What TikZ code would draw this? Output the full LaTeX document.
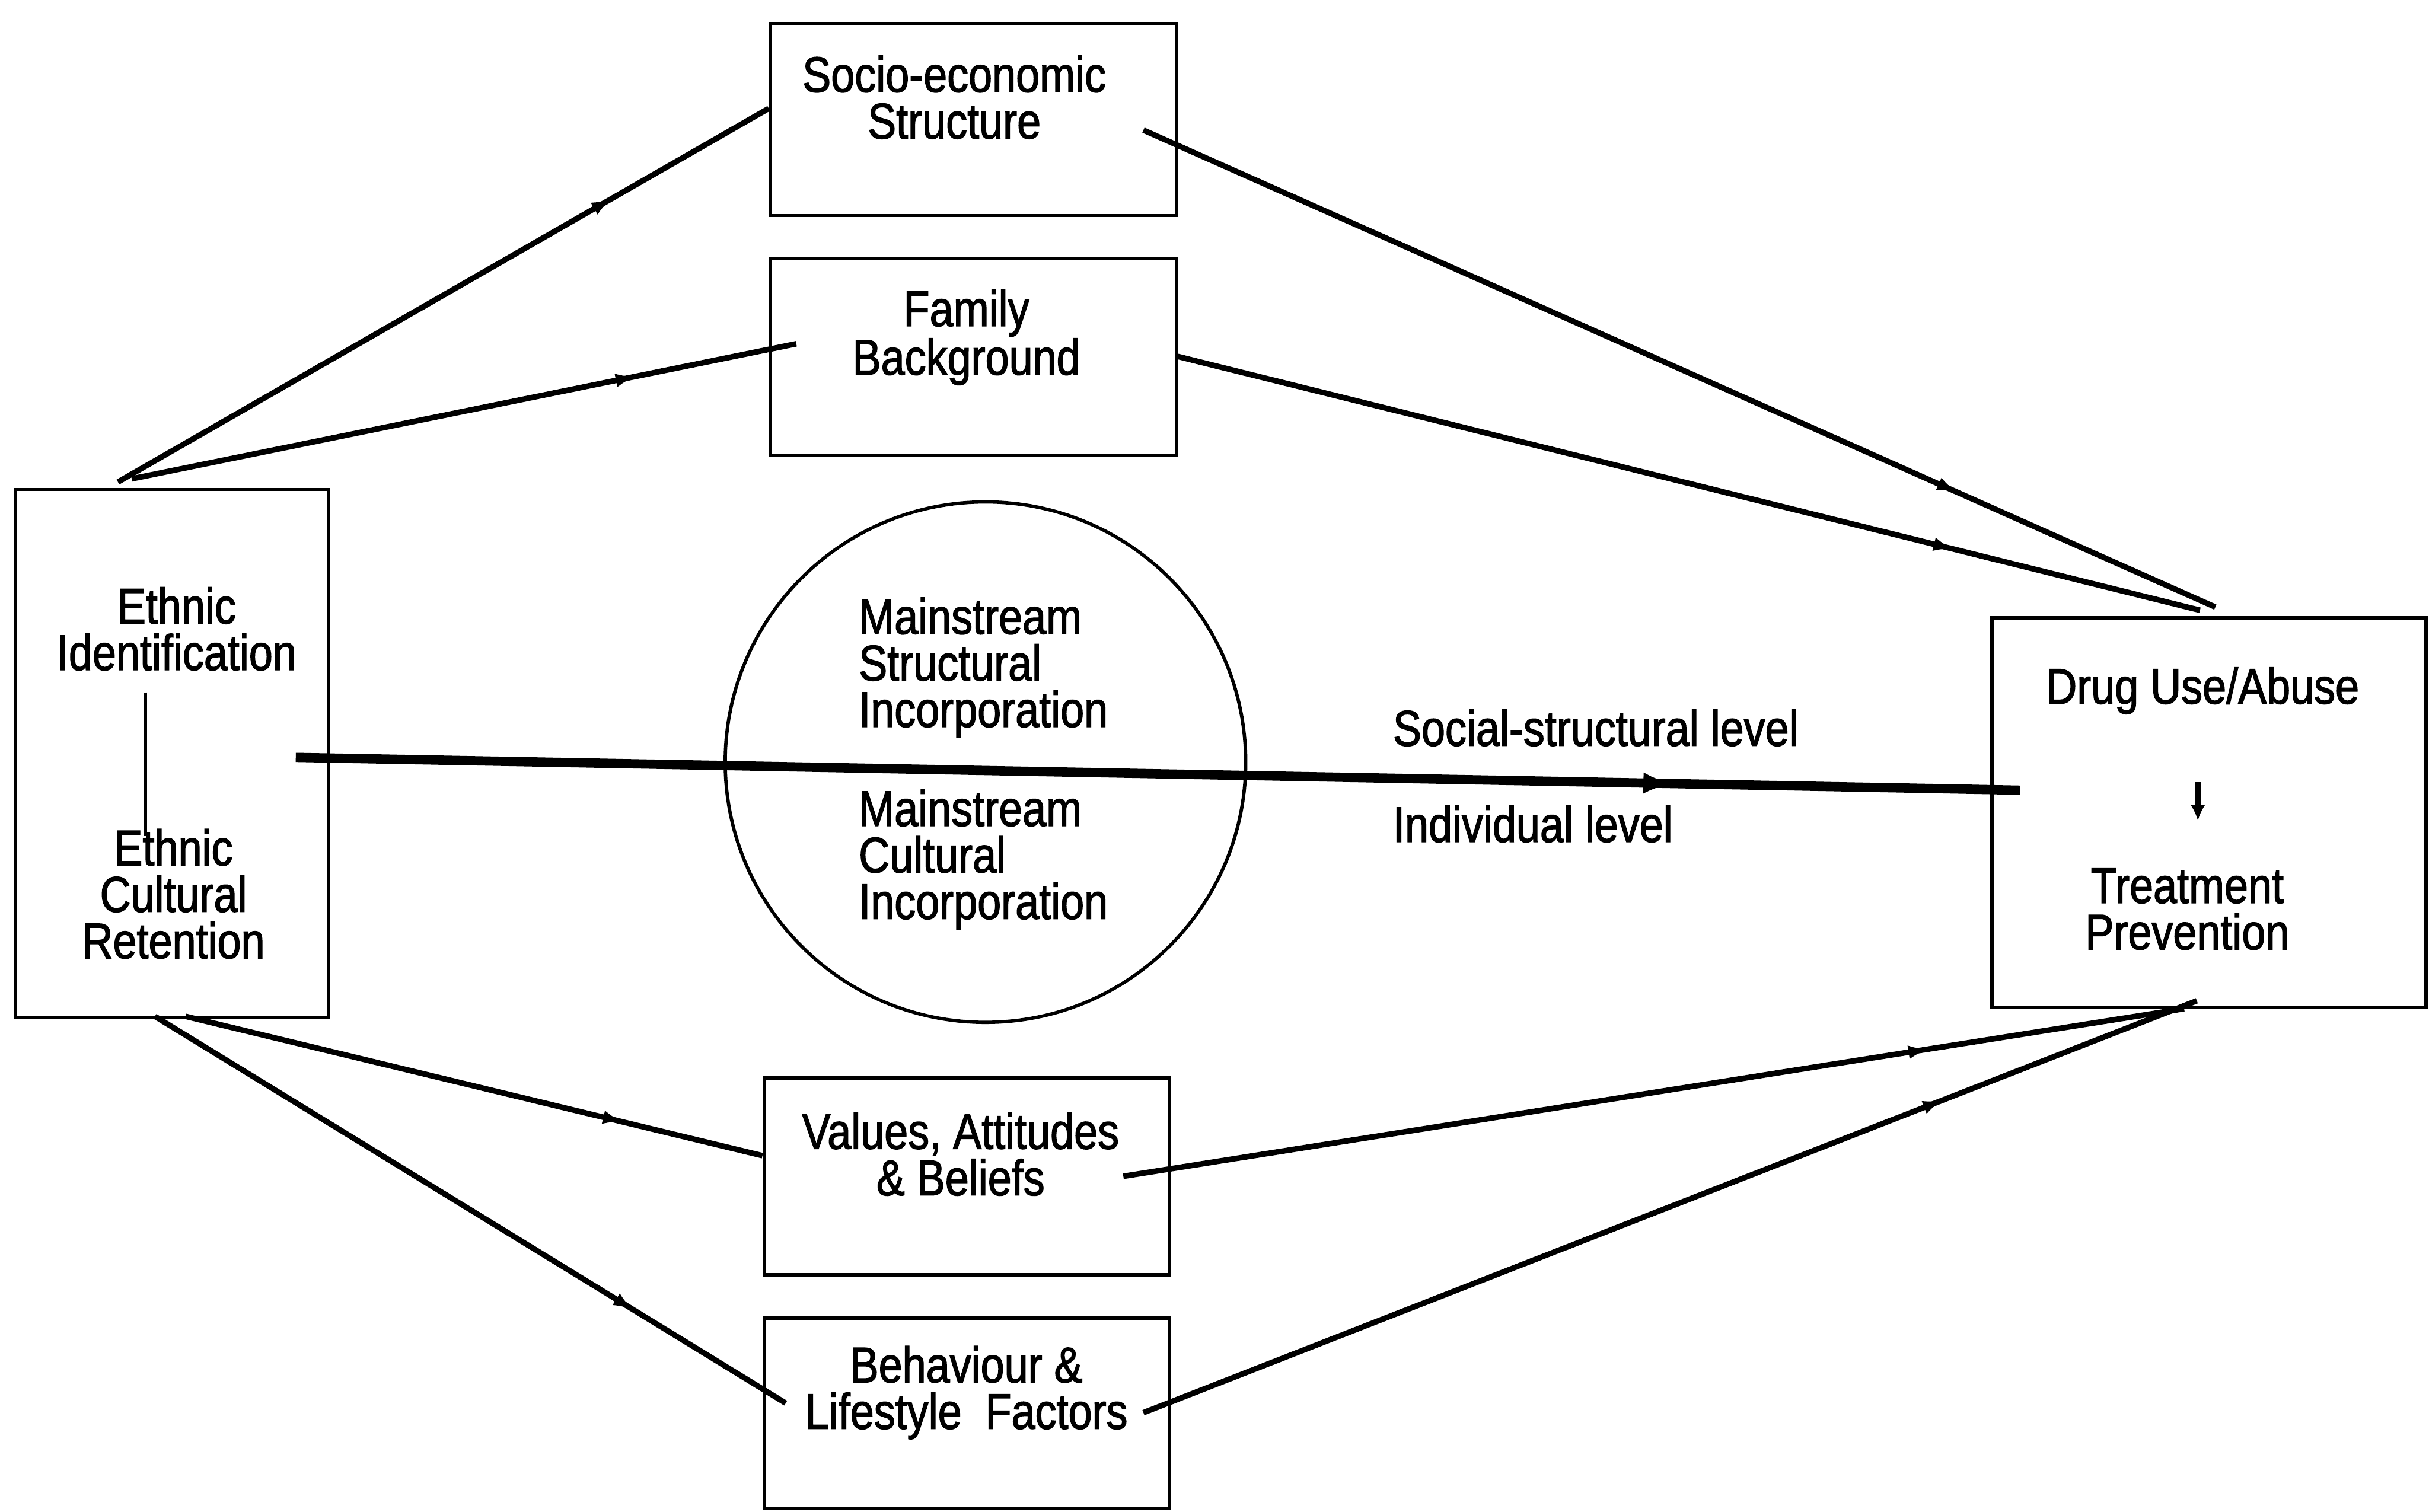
\documentclass[tikz,border=0pt]{standalone}
\usepackage{fontspec}
\setmainfont{Liberation Sans}[FakeStretch=0.85,FakeBold=1.6]
\usepackage{tikz}
\usetikzlibrary{arrows.meta,positioning,calc,decorations.markings}
\tikzset{
  factor/.style={draw, line width=1.8pt, inner sep=0pt},
  lbl/.style={font=\fontsize{27}{25}\selectfont, align=center},
  link/.style={line width=3pt, postaction={decorate},
    decoration={markings, mark=at position 0.76 with {\arrow{Latex[length=4mm,width=2.6mm]}}}},
  levelline/.style={line width=5pt, postaction={decorate},
    decoration={markings, mark=at position 0.8 with {\arrow{Latex[length=6mm,width=4mm]}}}},
}

\begin{document}
\begin{tikzpicture}
  \useasboundingbox (0,0) rectangle (45.92,-28.58);
  % boxes
  \node[factor, minimum width=7.67cm, minimum height=3.63cm] (socio) at (18.40,-2.26) {};
  \node[factor, minimum width=7.67cm, minimum height=3.72cm] (family) at (18.40,-6.75) {};
  \node[factor, minimum width=5.92cm, minimum height=9.99cm] (ethnic) at (3.25,-14.25) {};
  \node[draw, circle, line width=1.8pt, minimum size=9.84cm] (mainstream) at (18.63,-14.41) {};
  \node[factor, minimum width=8.20cm, minimum height=7.36cm] (drug) at (41.76,-15.36) {};
  \node[factor, minimum width=7.67cm, minimum height=3.72cm] (values) at (18.28,-22.24) {};
  \node[factor, minimum width=7.67cm, minimum height=3.60cm] (behaviour) at (18.28,-26.72) {};
  % texts
  \node[lbl] (sociotxt) at ([xshift=-0.36cm,yshift=0.42cm]socio.center) {Socio-economic\\Structure};
  \node[lbl] (familytxt) at ([xshift=-0.13cm,yshift=0.37cm]family.center) {Family\\Background};
  \node[lbl] (ident) at ([xshift=0.09cm,yshift=2.36cm]ethnic.center) {Ethnic\\Identification};
  \node[lbl] (retent) at ([xshift=0.03cm,yshift=-2.65cm]ethnic.center) {Ethnic\\Cultural\\Retention};
  \node[lbl, align=left] (structinc) at ([xshift=-0.04cm,yshift=1.79cm]mainstream.center) {Mainstream\\Structural\\Incorporation};
  \node[lbl, align=left] (cultinc) at ([xshift=-0.04cm,yshift=-1.84cm]mainstream.center) {Mainstream\\Cultural\\Incorporation};
  \node[lbl] (drugtxt) at ([xshift=-0.12cm,yshift=2.30cm]drug.center) {Drug Use/Abuse};
  \node[lbl] (treat) at ([xshift=-0.41cm,yshift=-1.83cm]drug.center) {Treatment\\Prevention};
  \node[lbl] (valuestxt) at ([xshift=-0.12cm,yshift=0.42cm]values.center) {Values, Attitudes\\\& Beliefs};
  \node[lbl] (behavtxt) at ([xshift=-0.01cm,yshift=0.39cm]behaviour.center) {Behaviour \&\\Lifestyle\ \ Factors};
  \node[lbl, anchor=west] (social) at (26.21,-13.76) {Social-structural level};
  \node[lbl, anchor=west] (indiv) at (26.21,-15.58) {Individual level};
  % inner links
  \draw[line width=1.8pt] ([xshift=-0.5cm,yshift=1.16cm]ethnic.center) -- ([xshift=-0.5cm,yshift=-1.56cm]ethnic.center);
  \draw[line width=3pt, -{Latex[length=3mm,width=2.8mm]}] ([xshift=-0.21cm,yshift=0.57cm]drug.center) -- ([xshift=-0.21cm,yshift=-0.16cm]drug.center);
  \draw[levelline] ([xshift=-0.65cm,yshift=-0.07cm]ethnic.east) -- ([xshift=0.56cm,yshift=0.42cm]drug.west);
  % connectors
  \draw[link] ([xshift=-1.02cm,yshift=0.11cm]ethnic.north) -- ([yshift=0.21cm]socio.west);
  \draw[link] ([xshift=-0.76cm,yshift=0.17cm]ethnic.north) -- ([xshift=0.52cm,yshift=0.25cm]family.west);
  \draw[link] ([xshift=-0.65cm,yshift=-0.20cm]socio.east) -- ([xshift=0.12cm,yshift=0.17cm]drug.north);
  \draw[link] ([yshift=0.01cm]family.east) -- ([xshift=-0.17cm,yshift=0.11cm]drug.north);
  \draw[link] ([xshift=0.26cm,yshift=0.06cm]ethnic.south) -- ([yshift=0.39cm]values.west);
  \draw[link] ([xshift=-0.32cm,yshift=0.06cm]ethnic.south) -- ([xshift=0.44cm,yshift=0.19cm]behaviour.west);
  \draw[link] ([xshift=-0.91cm]values.east) -- ([xshift=-0.47cm]drug.south);
  \draw[link] ([xshift=-0.53cm,yshift=0.01cm]behaviour.east) -- ([xshift=-0.23cm,yshift=0.15cm]drug.south);
\end{tikzpicture}
\end{document}
